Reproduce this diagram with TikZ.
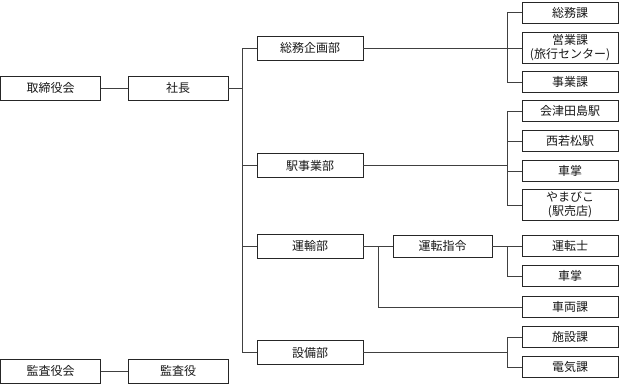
\documentclass[tikz,border=0pt]{standalone}
\usepackage{fontspec}
\newfontfamily\jp{Noto Sans CJK JP}
\begin{document}
\begin{tikzpicture}[x=1pt,y=-1pt,
  box/.style={draw=black!85, line width=0.8pt, fill=white, rectangle, inner sep=0pt, align=center,
    font=\jp\fontsize{12}{14}\selectfont, text=black!90},
  lbox/.style={box, minimum width=100pt, minimum height=24pt},
  bbox/.style={box, minimum width=106pt, minimum height=24pt},
  rbox/.style={box, minimum width=96pt, minimum height=21pt},
  rbox2/.style={box, minimum width=96pt, minimum height=31pt},
  conn/.style={draw=black!75, line width=0.8pt}]
\useasboundingbox (0,0) rectangle (621,383);
% left
\node[lbox] (torishimari) at (50.5,88) {取締役会};
\node[lbox] (shacho) at (178,88) {社長};
\node[lbox] (kansayakukai) at (50.5,371) {監査役会};
\node[lbox] (kansayaku) at (178,371) {監査役};
% departments
\node[bbox] (soumubu) at (310,48) {総務企画部};
\node[bbox] (ekibu) at (310,165.5) {駅事業部};
\node[bbox] (unyubu) at (310,246) {運輸部};
\node[bbox] (setsubibu) at (310,352.5) {設備部};
\node[box, minimum width=99pt, minimum height=22pt] (unten) at (442.5,246) {運転指令};
% right column
\node[rbox] (soumuka) at (570,12.5) {総務課};
\node[rbox2] (eigyoka) at (570,48) {営業課\\(旅行センター)};
\node[rbox] (jigyoka) at (570,82) {事業課};
\node[rbox] (aizu) at (570,111) {会津田島駅};
\node[rbox] (nishi) at (570,141) {西若松駅};
\node[rbox] (shasho1) at (570,171) {車掌};
\node[rbox2] (yamabiko) at (570,205) {やまびこ\\(駅売店)};
\node[rbox] (untenshi) at (570,246) {運転士};
\node[rbox] (shasho2) at (570,276) {車掌};
\node[rbox] (sharyo) at (570,307) {車両課};
\node[rbox] (shisetsu) at (570,337) {施設課};
\node[rbox] (denki) at (570,367) {電気課};
% guide coordinates
\coordinate (tk) at (242,0);
\coordinate (br) at (507,0);
\coordinate (ub) at (378,0);
% connectors
\draw[conn] (torishimari) -- (shacho);
\draw[conn] (kansayakukai) -- (kansayaku);
\draw[conn] (shacho.east) -- (shacho.east -| tk);
\draw[conn] (soumubu.west -| tk) -- (setsubibu.west -| tk);
\foreach \b in {soumubu,ekibu,unyubu,setsubibu}
  \draw[conn] (\b.west) -- (\b.west -| tk);
% soumubu
\draw[conn] (soumubu.east) -- (soumubu.east -| eigyoka.west);
\draw[conn] (soumuka.west -| br) -- (jigyoka.west -| br);
\foreach \c in {soumuka,jigyoka} \draw[conn] (\c.west) -- (\c.west -| br);
% ekibu
\draw[conn] (ekibu.east) -- (ekibu.east -| br);
\draw[conn] (aizu.west -| br) -- (yamabiko.west -| br);
\foreach \c in {aizu,nishi,shasho1,yamabiko} \draw[conn] (\c.west) -- (\c.west -| br);
% unyubu
\draw[conn] (unyubu.east) -- (unten.west);
\draw[conn] (unyubu.east -| ub) -- (sharyo.west -| ub) -- (sharyo.west);
\draw[conn] (unten.east) -- (untenshi.west);
\draw[conn] (untenshi.west -| br) -- (shasho2.west -| br) -- (shasho2.west);
% setsubibu
\draw[conn] (setsubibu.east) -- (setsubibu.east -| br);
\draw[conn] (shisetsu.west -| br) -- (denki.west -| br);
\foreach \c in {shisetsu,denki} \draw[conn] (\c.west) -- (\c.west -| br);
\end{tikzpicture}
\end{document}
